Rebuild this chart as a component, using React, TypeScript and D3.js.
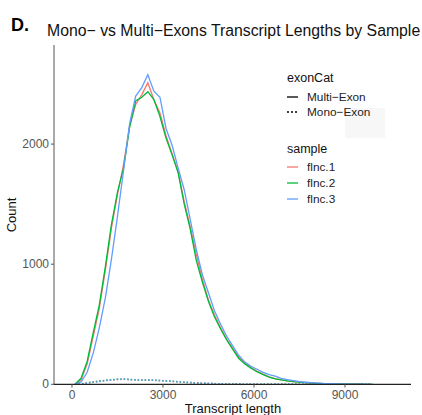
import React from "react";
import * as d3 from "d3";

const lengths = [100,300,500,700,900,1100,1300,1500,1700,1900,2100,2300,2500,2700,2900,3100,3300,3500,3700,3900,4100,4300,4500,4700,4900,5100,5300,5500,5700,5900,6100,6300,6500,6700,6900,7100,7300,7500,7700,7900,8100,8300,8500,8700,8900,9100,9300,9500,9700,9900];

const multiFlnc1 = [0,40,170,400,630,950,1300,1580,1830,2150,2330,2410,2511,2370,2260,2070,1920,1770,1520,1310,1080,870,700,575,470,375,300,225,175,140,108,84,62,48,37,29,23,18,14,11,8,6,5,3,2,2,1,1,0,0];
const multiFlnc2 = [0,50,190,430,660,980,1330,1600,1800,2140,2360,2390,2436,2370,2230,2050,1910,1760,1500,1290,1030,850,690,560,460,370,290,215,170,135,105,80,60,46,36,28,22,18,14,10,8,6,5,3,2,2,1,1,0,0];
const multiFlnc3 = [0,20,100,260,470,720,1040,1400,1780,2170,2400,2470,2578,2440,2390,2130,1990,1800,1620,1370,1120,910,760,610,500,400,320,240,185,150,125,100,80,68,50,38,30,22,17,13,10,7,6,4,3,2,1,1,0,0];

const monoFlnc1 = [0,2,10,18,25,31,36,40,42,38,36,34,35,33,30,28,24,20,17,14,11,9,7,5,4,3,2,2,1,1,0,0,0,0,0,0,0,0,0,0,0,0,0,0,0,0,0,0,0,0];
const monoFlnc2 = [0,3,12,20,27,33,38,42,44,40,37,35,36,34,31,28,25,21,17,14,11,9,7,5,4,3,2,2,1,1,0,0,0,0,0,0,0,0,0,0,0,0,0,0,0,0,0,0,0,0];
const monoFlnc3 = [0,1,8,16,23,30,35,40,43,41,38,36,37,35,32,29,25,22,18,15,12,9,7,6,4,3,2,2,1,1,0,0,0,0,0,0,0,0,0,0,0,0,0,0,0,0,0,0,0,0];

const samples = ["flnc.1", "flnc.2", "flnc.3"];
const sampleColors = ["#F8766D", "#00BA38", "#619CFF"];
const exonCats = ["Multi\u2212Exon", "Mono\u2212Exon"];
const xTicks = [0, 3000, 6000, 9000];
const yTicks = [0, 1000, 2000];

const W = 422, H = 415;
const FONT = "'Liberation Sans', Arial, sans-serif";

export default function App() {
  const x = d3.scaleLinear().domain([-593, 11176]).range([54, 411]);
  const y = d3.scaleLinear().domain([0, 2825]).range([384.3, 45]);
  const line = d3.line<number>().x((_, i) => x(lengths[i])).y((d) => y(d));

  const multi = [multiFlnc1, multiFlnc2, multiFlnc3];
  const mono = [monoFlnc1, monoFlnc2, monoFlnc3];

  return (
    <svg width={W} height={H} style={{ position: "absolute", left: 0, top: 0, background: "#fff" }} fontFamily={FONT}>
      <rect x={0} y={0} width={W} height={H} fill="#fff" />
      {/* title */}
      <text x={11} y={31} fontSize={18} fontWeight="bold" fill="#000">D.</text>
      <text x={47} y={36} fontSize={15.8} fill="#111">Mono− vs Multi−Exons Transcript Lengths by Sample</text>

      {/* faint legend box artifact */}
      <rect x={345} y={108} width={40} height={30} fill="#f7f7f7" />

      {/* mono lines (dashed) */}
      {mono.map((s, i) => (
        <path key={"m" + i} d={line(s) || ""} fill="none" stroke={sampleColors[i]} strokeWidth={1.5} strokeDasharray="1.5,2" opacity={0.9} />
      ))}
      {/* multi lines */}
      {multi.map((s, i) => (
        <path key={"M" + i} d={line(s) || ""} fill="none" stroke={sampleColors[i]} strokeWidth={1.3} />
      ))}

      {/* axes */}
      <line x1={54} x2={54} y1={45} y2={384.3} stroke="#555" strokeWidth={1} />
      <line x1={54} x2={411} y1={384.3} y2={384.3} stroke="#222" strokeWidth={1.3} />
      {yTicks.map((t) => (
        <g key={"y" + t}>
          <line x1={51} x2={54} y1={y(t)} y2={y(t)} stroke="#555" />
          <text x={49} y={y(t) + 4} fontSize={12} fill="#555" textAnchor="end">{t}</text>
        </g>
      ))}
      {xTicks.map((t) => (
        <g key={"x" + t}>
          <line x1={x(t)} x2={x(t)} y1={384.3} y2={387.5} stroke="#555" />
          <text x={x(t)} y={399} fontSize={12} fill="#555" textAnchor="middle">{t}</text>
        </g>
      ))}
      <text x={233} y={413} fontSize={13} fill="#111" textAnchor="middle">Transcript length</text>
      <text transform="translate(16,215) rotate(-90)" fontSize={13} fill="#111" textAnchor="middle">Count</text>

      {/* legend */}
      <text x={287} y={82} fontSize={12.5} fill="#111">exonCat</text>
      {exonCats.map((c, i) => (
        <g key={c}>
          <line x1={287} x2={298} y1={97 + i * 15} y2={97 + i * 15} stroke="#000" strokeWidth={1.3} strokeDasharray={i === 1 ? "2,2" : undefined} />
          <text x={307} y={101 + i * 15} fontSize={11.8} fill="#222">{c}</text>
        </g>
      ))}
      <text x={287} y={153} fontSize={12.5} fill="#111">sample</text>
      {samples.map((s, i) => (
        <g key={s}>
          <line x1={287} x2={298} y1={167 + i * 16} y2={167 + i * 16} stroke={sampleColors[i]} strokeWidth={1.3} />
          <text x={307} y={171 + i * 16} fontSize={11.8} fill="#222">{s}</text>
        </g>
      ))}
    </svg>
  );
}
